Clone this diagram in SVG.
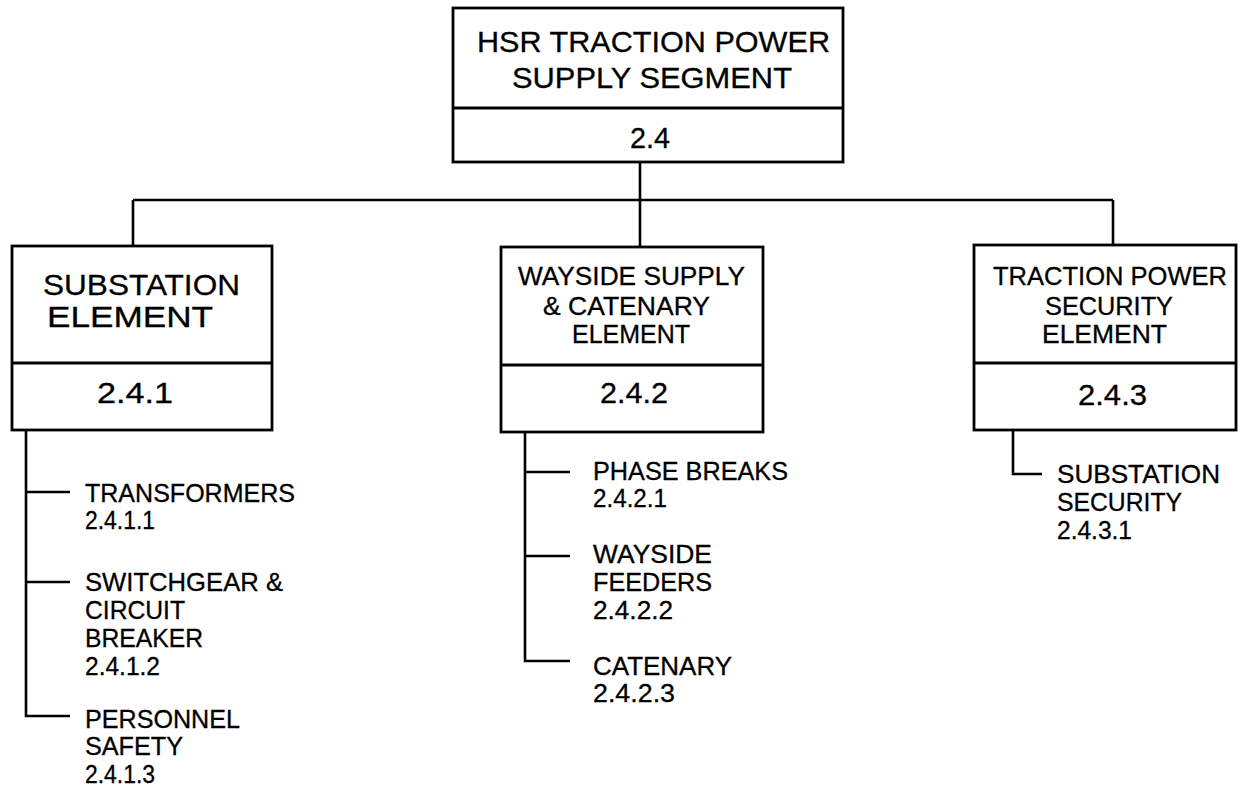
<svg xmlns="http://www.w3.org/2000/svg" width="1243" height="796" viewBox="0 0 1243 796">
<style>
.box{fill:#fff;stroke:#000;stroke-width:2.8}
.div{stroke:#000;stroke-width:2.8}
.wire{fill:none;stroke:#000;stroke-width:2.6}
text{font-family:"Liberation Sans",Arial,sans-serif;fill:#000;stroke:#000;stroke-width:0.3}
.t29{font-size:29px}
.t30{font-size:30px}
.t24{font-size:25px}
.t25{font-size:25px}
</style>
<rect width="1243" height="796" fill="#fff"/>
<g id="connectors">
<path class="wire" d="M640 162V246M133 200H1113M133 200V246M640 200V247M1113 200V245"/>
<path class="wire" d="M26 430V716H70M26 492H70M26 582H70"/>
<path class="wire" d="M525 432V661H570M525 472H570M525 556H570"/>
<path class="wire" d="M1013 430V474H1042"/>
</g>
<g id="n2_4">
<rect class="box" x="453" y="8" width="390" height="154"/>
<line class="div" x1="453" y1="108" x2="843" y2="108"/>
<text class="t29" x="477" y="52" textLength="353" lengthAdjust="spacingAndGlyphs">HSR TRACTION POWER</text>
<text class="t29" x="512" y="88" textLength="280" lengthAdjust="spacingAndGlyphs">SUPPLY SEGMENT</text>
<text class="t30" x="630" y="148" textLength="40" lengthAdjust="spacingAndGlyphs">2.4</text>
</g>
<g id="n2_4_1">
<rect class="box" x="12" y="246" width="260" height="184"/>
<line class="div" x1="12" y1="363" x2="272" y2="363"/>
<text class="t30" x="43" y="295" textLength="197" lengthAdjust="spacingAndGlyphs">SUBSTATION</text>
<text class="t30" x="47" y="327" textLength="166" lengthAdjust="spacingAndGlyphs">ELEMENT</text>
<text class="t29" x="97" y="403" textLength="76" lengthAdjust="spacingAndGlyphs">2.4.1</text>
</g>
<g id="n2_4_2">
<rect class="box" x="501" y="247" width="262" height="185"/>
<line class="div" x1="501" y1="365" x2="763" y2="365"/>
<text class="t24" x="518" y="285" textLength="227" lengthAdjust="spacingAndGlyphs">WAYSIDE SUPPLY</text>
<text class="t24" x="543" y="315" textLength="167" lengthAdjust="spacingAndGlyphs">&amp; CATENARY</text>
<text class="t24" x="572" y="343" textLength="118" lengthAdjust="spacingAndGlyphs">ELEMENT</text>
<text class="t29" x="600" y="403" textLength="68" lengthAdjust="spacingAndGlyphs">2.4.2</text>
</g>
<g id="n2_4_3">
<rect class="box" x="974" y="245" width="262" height="185"/>
<line class="div" x1="974" y1="363" x2="1236" y2="363"/>
<text class="t24" x="993" y="285" textLength="234" lengthAdjust="spacingAndGlyphs">TRACTION POWER</text>
<text class="t24" x="1045" y="315" textLength="128" lengthAdjust="spacingAndGlyphs">SECURITY</text>
<text class="t24" x="1042" y="343" textLength="125" lengthAdjust="spacingAndGlyphs">ELEMENT</text>
<text class="t29" x="1078" y="405" textLength="69" lengthAdjust="spacingAndGlyphs">2.4.3</text>
</g>
<g id="n2_4_1_1">
<text class="t25" x="85" y="502" textLength="210" lengthAdjust="spacingAndGlyphs">TRANSFORMERS</text>
<text class="t25" x="85" y="529" textLength="70" lengthAdjust="spacingAndGlyphs">2.4.1.1</text>
</g>
<g id="n2_4_1_2">
<text class="t25" x="85" y="591" textLength="198" lengthAdjust="spacingAndGlyphs">SWITCHGEAR &amp;</text>
<text class="t25" x="85" y="619" textLength="100" lengthAdjust="spacingAndGlyphs">CIRCUIT</text>
<text class="t25" x="85" y="647" textLength="118" lengthAdjust="spacingAndGlyphs">BREAKER</text>
<text class="t25" x="85" y="675" textLength="75" lengthAdjust="spacingAndGlyphs">2.4.1.2</text>
</g>
<g id="n2_4_1_3">
<text class="t25" x="85" y="728" textLength="155" lengthAdjust="spacingAndGlyphs">PERSONNEL</text>
<text class="t25" x="85" y="755" textLength="98" lengthAdjust="spacingAndGlyphs">SAFETY</text>
<text class="t25" x="85" y="783" textLength="70" lengthAdjust="spacingAndGlyphs">2.4.1.3</text>
</g>
<g id="n2_4_2_1">
<text class="t25" x="593" y="480" textLength="195" lengthAdjust="spacingAndGlyphs">PHASE BREAKS</text>
<text class="t25" x="593" y="507" textLength="74" lengthAdjust="spacingAndGlyphs">2.4.2.1</text>
</g>
<g id="n2_4_2_2">
<text class="t25" x="593" y="563" textLength="119" lengthAdjust="spacingAndGlyphs">WAYSIDE</text>
<text class="t25" x="593" y="591" textLength="119" lengthAdjust="spacingAndGlyphs">FEEDERS</text>
<text class="t25" x="593" y="619" textLength="80" lengthAdjust="spacingAndGlyphs">2.4.2.2</text>
</g>
<g id="n2_4_2_3">
<text class="t25" x="593" y="675" textLength="139" lengthAdjust="spacingAndGlyphs">CATENARY</text>
<text class="t25" x="593" y="702" textLength="82" lengthAdjust="spacingAndGlyphs">2.4.2.3</text>
</g>
<g id="n2_4_3_1">
<text class="t25" x="1057" y="483" textLength="163" lengthAdjust="spacingAndGlyphs">SUBSTATION</text>
<text class="t25" x="1057" y="511" textLength="125" lengthAdjust="spacingAndGlyphs">SECURITY</text>
<text class="t25" x="1057" y="539" textLength="75" lengthAdjust="spacingAndGlyphs">2.4.3.1</text>
</g>
</svg>
